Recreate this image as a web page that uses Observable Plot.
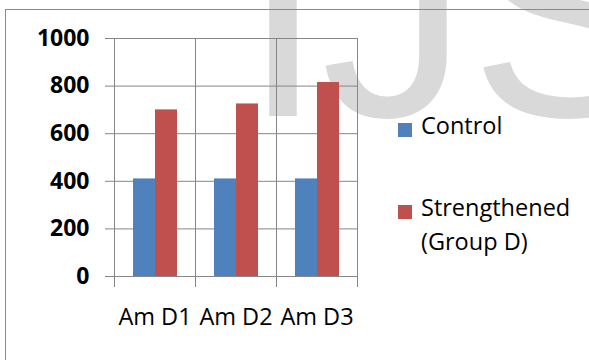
<!DOCTYPE html>
<html>
<head>
<meta charset="utf-8">
<script src="https://cdn.jsdelivr.net/npm/d3@7"></script>
<script src="https://cdn.jsdelivr.net/npm/@observablehq/plot@0.6"></script>
<style>
  html, body { margin: 0; padding: 0; background: #fff; }
  #wrap { position: relative; width: 589px; height: 360px; overflow: hidden; background: #fff; }
  #wrap > * { position: absolute; left: 0; top: 0; }
  #border { left: 5px; top: 9px; width: 800px; height: 800px; border: 1px solid #8a8a8a; box-sizing: border-box; }
  #wm text { font-family: 'Liberation Sans', Arial, sans-serif; font-size: 295px; fill: #d9d9d9; }
  .lg { font-family: 'Open Sans', sans-serif; font-size: 23.5px; color: #000; line-height: 34px; }
  .sw { position: absolute; width: 14px; height: 14px; }
  .lt { position: absolute; white-space: nowrap; }
</style>
</head>
<body>
<div id="wrap">
  <svg id="wm" width="589" height="360"><text x="242" y="116">I</text><text x="321" y="116">J</text><text x="470" y="116">S</text></svg>
  <div id="chart"></div>
  <div id="border"></div>
  <div id="legend" class="lg"></div>
</div>
<script>
const categories = ["Am D1", "Am D2", "Am D3"];
const series = ["Control", "Strengthened (Group D)"];
const controlValues = [410, 410, 410];
const strengthenedValues = [700, 725, 815];
const yTicks = [0, 200, 400, 600, 800, 1000];
const seriesColors = ["#4F81BD", "#C0504D"];
const legendLines = [["Control"], ["Strengthened", "(Group D)"]];

const data = categories.flatMap((c, i) => [
  {category: c, series: series[0], value: controlValues[i]},
  {category: c, series: series[1], value: strengthenedValues[i]}
]);

const grid = "#868686";

const chart = Plot.plot({
  width: 589,
  height: 360,
  marginLeft: 114,
  marginRight: 232,
  marginTop: 38,
  marginBottom: 84,
  style: {background: "transparent", fontFamily: "'Open Sans', sans-serif", overflow: "visible"},
  fx: {domain: categories, padding: 0, label: null},
  x: {domain: series, paddingInner: 0, paddingOuter: 0.84, axis: null},
  y: {domain: [0, 1000], label: null},
  color: {domain: series, range: seriesColors},
  marks: [
    Plot.ruleY(yTicks, {stroke: grid, strokeWidth: 1}),
    Plot.barY(data, {fx: "category", x: "series", y: "value", fill: "series"}),
    Plot.frame({anchor: "left", stroke: grid, insetBottom: -10}),
    Plot.frame({anchor: "right", stroke: grid, insetBottom: -10}),
    Plot.axisY({ticks: yTicks, tickFormat: d3.format("d"), tickSize: 9, tickPadding: 16, stroke: grid, fill: "#000",
      fontSize: 23, fontWeight: "bold", label: null}),
    Plot.axisFx({anchor: "bottom", tickSize: 0, tickPadding: 32, fontSize: 23.5, fill: "#000", label: null})
  ]
});
document.getElementById("chart").appendChild(chart);

// legend
const legend = document.getElementById("legend");
const legendTop = [123, 205];
const textTop = [108, 190];
series.forEach((s, i) => {
  const sw = document.createElement("div");
  sw.className = "sw";
  sw.style.left = "398px";
  sw.style.top = legendTop[i] + "px";
  sw.style.background = seriesColors[i];
  legend.appendChild(sw);
  const t = document.createElement("div");
  t.className = "lt";
  t.style.left = "421px";
  t.style.top = textTop[i] + "px";
  t.innerHTML = legendLines[i].join("<br>");
  legend.appendChild(t);
});
</script>
</body>
</html>
